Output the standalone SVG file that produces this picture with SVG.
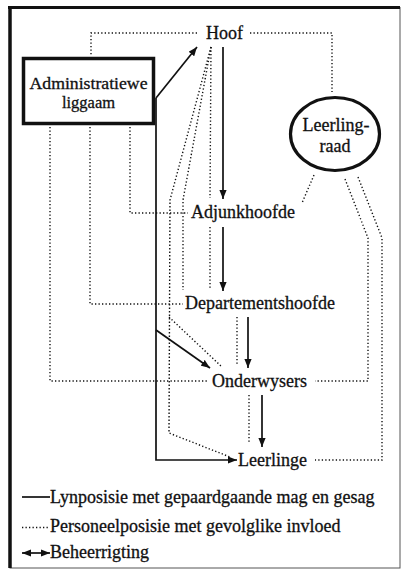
<svg xmlns="http://www.w3.org/2000/svg" width="405" height="577" viewBox="0 0 405 577">
<style>
text{font-family:"Liberation Serif","Times New Roman",serif;font-size:18px;fill:#111;stroke:#111;stroke-width:0.3}
.dot{fill:none;stroke:#111;stroke-width:1.4;stroke-dasharray:1.3 2.2}
.sol{fill:none;stroke:#111;stroke-width:1.7}
.arr{marker-end:url(#ah)}
.sm{font-size:16.5px}
</style>
<defs>
<marker id="ah" viewBox="0 0 10 8" refX="10" refY="4" markerWidth="9" markerHeight="7.5" markerUnits="userSpaceOnUse" orient="auto">
<path d="M0,0 L10,4 L0,8 Z" fill="#111"/>
</marker>
<marker id="ahs" viewBox="0 0 10 8" refX="0" refY="4" markerWidth="9" markerHeight="7.5" markerUnits="userSpaceOnUse" orient="auto">
<path d="M10,0 L0,4 L10,8 Z" fill="#111"/>
</marker>
</defs>
<g id="frame">
<rect x="10" y="7.5" width="390" height="560.5" fill="none" stroke="#555" stroke-width="1"/>
<line x1="8" y1="7.5" x2="400" y2="7.5" stroke="#111" stroke-width="3"/>
<line x1="10" y1="6" x2="10" y2="568" stroke="#111" stroke-width="3.5"/>
</g>
<g id="connectors">
<path class="dot" d="M197,33 H91 V56"/>
<path class="dot" d="M250,33 H332 V92"/>
<path class="dot" d="M130,127 V213 H188"/>
<path class="dot" d="M90,127 V304 H183"/>
<path class="dot" d="M50,127 V381 H208"/>
<path class="dot" d="M211,47 L170,200 L169,433 L230,457"/>
<path class="dot" d="M211,47 L183,200 V290"/>
<path class="dot" d="M211,47 L210,198"/>
<path class="dot" d="M210,227 V290"/>
<path class="dot" d="M169,317 L222,367"/>
<path class="dot" d="M237,317 V365"/>
<path class="dot" d="M249,395 V443"/>
<path class="dot" d="M314,175 L302,203"/>
<path class="dot" d="M345,179 L368,238 V381 H315"/>
<path class="dot" d="M358,177 L382,238 V460 H315"/>
<path class="sol arr" d="M156,98 L197,47"/>
<path class="sol arr" d="M223,47 V199"/>
<path class="sol arr" d="M223,227 V291"/>
<path class="sol arr" d="M248,317 V368"/>
<path class="sol arr" d="M262,395 V447"/>
<path class="sol arr" d="M156,98 V460 H237"/>
<path class="sol arr" d="M156,330 L210,368"/>
</g>
<g id="hoof"><text x="206" y="39">Hoof</text></g>
<g id="admin">
<rect x="23.5" y="58.5" width="130" height="65" fill="#fff" stroke="#111" stroke-width="3.5"/>
<text class="sm" x="29.5" y="89" textLength="118" lengthAdjust="spacingAndGlyphs">Administratiewe</text>
<text class="sm" x="88.5" y="108" text-anchor="middle">liggaam</text>
</g>
<g id="leerlingraad">
<ellipse cx="335" cy="134" rx="44.5" ry="36.5" fill="#fff" stroke="#111" stroke-width="3.2"/>
<text x="336" y="131" text-anchor="middle">Leerling-</text>
<text x="335" y="152" text-anchor="middle">raad</text>
</g>
<g id="adjunkhoofde"><text x="191" y="218">Adjunkhoofde</text></g>
<g id="departementshoofde"><text x="185" y="309">Departementshoofde</text></g>
<g id="onderwysers"><text x="212" y="387">Onderwysers</text></g>
<g id="leerlinge"><text x="238" y="466">Leerlinge</text></g>
<g id="legend">
<line class="sol" x1="22" y1="497" x2="50" y2="497"/>
<text x="50" y="503">Lynposisie met gepaardgaande mag en gesag</text>
<line class="dot" x1="22" y1="527.5" x2="48" y2="527.5"/>
<text x="50" y="532">Personeelposisie met gevolglike invloed</text>
<line class="sol" x1="22" y1="553" x2="50" y2="553" marker-start="url(#ahs)" marker-end="url(#ah)"/>
<text x="50" y="558">Beheerrigting</text>
</g>
</svg>
